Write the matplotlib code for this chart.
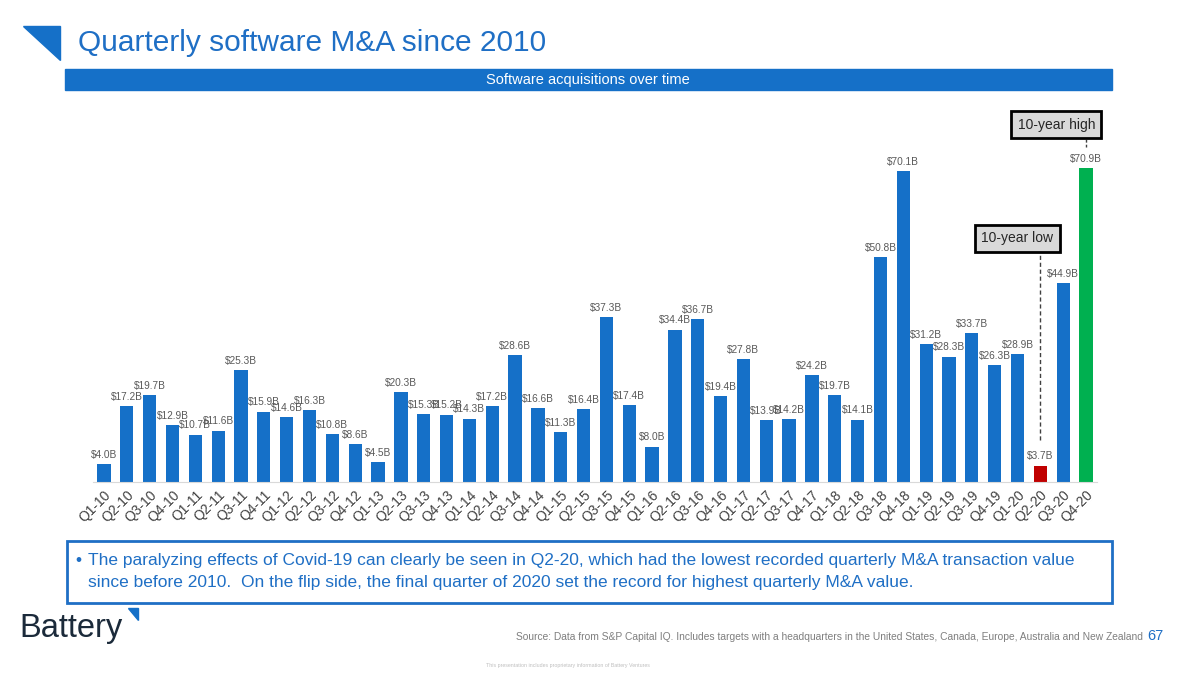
import matplotlib
matplotlib.use("Agg")
import matplotlib.pyplot as plt
from matplotlib.patches import Rectangle, Polygon

plt.rcParams['font.family'] = ['Liberation Sans', 'DejaVu Sans']

quarters = ["Q1-10","Q2-10","Q3-10","Q4-10","Q1-11","Q2-11","Q3-11","Q4-11",
            "Q1-12","Q2-12","Q3-12","Q4-12","Q1-13","Q2-13","Q3-13","Q4-13",
            "Q1-14","Q2-14","Q3-14","Q4-14","Q1-15","Q2-15","Q3-15","Q4-15",
            "Q1-16","Q2-16","Q3-16","Q4-16","Q1-17","Q2-17","Q3-17","Q4-17",
            "Q1-18","Q2-18","Q3-18","Q4-18","Q1-19","Q2-19","Q3-19","Q4-19",
            "Q1-20","Q2-20","Q3-20","Q4-20"]
values = [4.0,17.2,19.7,12.9,10.7,11.6,25.3,15.9,
          14.6,16.3,10.8,8.6,4.5,20.3,15.3,15.2,
          14.3,17.2,28.6,16.6,11.3,16.4,37.3,17.4,
          8.0,34.4,36.7,19.4,27.8,13.9,14.2,24.2,
          19.7,14.1,50.8,70.1,31.2,28.3,33.7,26.3,
          28.9,3.7,44.9,70.9]
value_labels = [f"${v:.1f}B" for v in values]
low_quarter = "Q2-20"
high_quarter = "Q4-20"

BLUE = "#1570C8"
RED = "#C00000"
GREEN = "#00B050"
colors = [RED if q == low_quarter else GREEN if q == high_quarter else BLUE for q in quarters]

W, H = 1200, 673
fig = plt.figure(figsize=(W/100, H/100), dpi=100)

# overlay for page decorations (pixel coordinates)
deco = fig.add_axes([0, 0, 1, 1])
deco.set_xlim(0, W)
deco.set_ylim(H, 0)
deco.axis('off')

deco.add_patch(Polygon([[23, 26], [60, 26], [60, 60]], closed=True, color=BLUE))
deco.text(78, 43, "Quarterly software M&A since 2010", fontsize=21.5, color="#1F6FC5",
          va='center', ha='left')
deco.add_patch(Rectangle((65, 69), 1047, 21, color=BLUE))
deco.text(588, 80, "Software acquisitions over time", fontsize=10.5, color="white",
          va='center', ha='center')

deco.add_patch(Rectangle((67, 541), 1045, 62, facecolor='white', edgecolor="#1F6FC5", lw=2))
deco.text(75, 561, "•", fontsize=12.5, color="#1F6FC5", va='center', ha='left')
deco.text(88, 561, "The paralyzing effects of Covid-19 can clearly be seen in Q2-20, which had the lowest recorded quarterly M&A transaction value",
          fontsize=12.5, color="#1F6FC5", va='center', ha='left')
deco.text(88, 583, "since before 2010.  On the flip side, the final quarter of 2020 set the record for highest quarterly M&A value.",
          fontsize=12.5, color="#1F6FC5", va='center', ha='left')

deco.text(19, 629, "Battery", fontsize=23.5, color="#1B2A3A", va='center', ha='left')
deco.add_patch(Polygon([[128, 608], [138, 608], [138, 620]], closed=True, color=BLUE))

deco.text(1143, 637, "Source: Data from S&P Capital IQ. Includes targets with a headquarters in the United States, Canada, Europe, Australia and New Zealand",
          fontsize=7.4, color="#7F7F7F", va='center', ha='right')
deco.text(1147, 636, "67", fontsize=10.5, color="#1F6FC5", va='center', ha='left')
deco.text(568, 665, "This presentation includes proprietary information of Battery Ventures",
          fontsize=3.8, color="#BFBFBF", va='center', ha='center')

# chart axes
ax = fig.add_axes([92.6/W, (H-482)/H, 1004.8/W, 376.6/H])
ax.patch.set_alpha(0)
x = list(range(len(quarters)))
bars = ax.bar(x, values, width=0.58, color=colors, zorder=2)
ax.bar_label(bars, labels=value_labels, padding=3, fontsize=7.3, color="#595959")
ax.set_xlim(-0.5, len(quarters) - 0.5)
ax.set_ylim(0, 85)
ax.set_xticks(x)
ax.set_xticklabels(quarters, rotation=45, ha='right', rotation_mode='anchor',
                   fontsize=10, color="#404040")
ax.tick_params(axis='x', length=0, pad=4)
ax.set_yticks([])
for s in ['top', 'right', 'left']:
    ax.spines[s].set_visible(False)
ax.spines['bottom'].set_color("#D9D9D9")

# annotations
i_low = quarters.index(low_quarter)
i_high = quarters.index(high_quarter)
box = dict(boxstyle='square,pad=0.45', facecolor="#D9D9D9", edgecolor="black", lw=2)
ax.text(i_low - 1.0, 55.3, "10-year low", fontsize=10, ha='center', va='center_baseline',
        bbox=box, color="#262626")
ax.plot([i_low, i_low], [9.5, 52.4], ls=(0, (3, 2)), color="#404040", lw=1)
ax.text(i_high - 1.3, 81.0, "10-year high", fontsize=10, ha='center', va='center_baseline',
        bbox=box, color="#262626", clip_on=False)
ax.plot([i_high, i_high], [75.6, 78.0], ls=(0, (2, 1.5)), color="#404040", lw=1, clip_on=False)

fig.savefig("out.png", dpi=100)
